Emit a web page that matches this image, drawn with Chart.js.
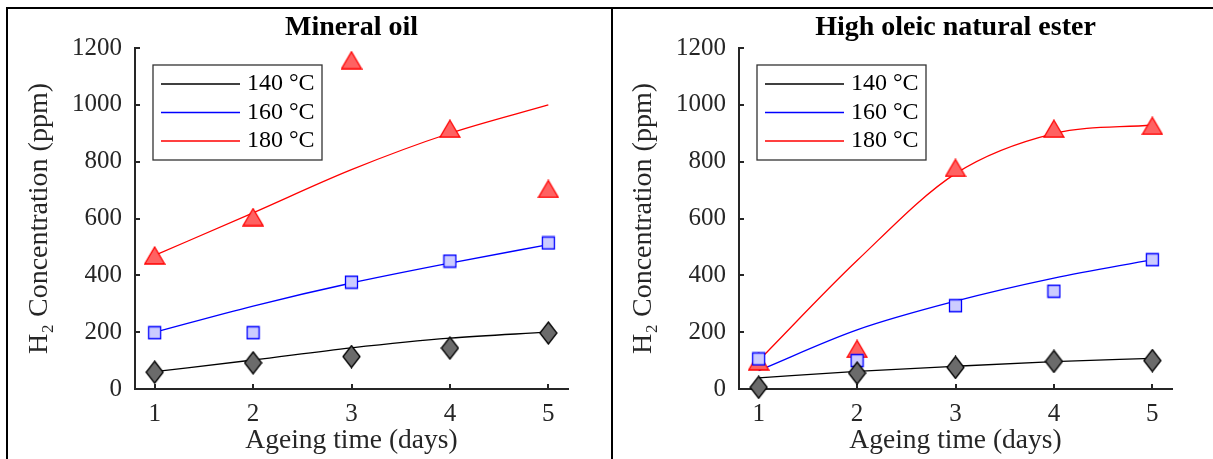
<!DOCTYPE html>
<html>
<head>
<meta charset="utf-8">
<script src="https://cdn.jsdelivr.net/npm/chart.js@4.4.0/dist/chart.umd.min.js"></script>
<style>
html, body { margin: 0; padding: 0; background: #fff; }
body { width: 1213px; height: 459px; position: relative; overflow: hidden; }
.frame { position: absolute; background: #000; }
canvas { position: absolute; top: 10px; }
#mineral { left: 10px; }
#ester { left: 614px; }
</style>
</head>
<body>
<div class="frame" style="left:6px;top:7px;width:1207px;height:2px"></div>
<div class="frame" style="left:6px;top:7px;width:2px;height:452px"></div>
<div class="frame" style="left:611px;top:7px;width:2px;height:452px"></div>
<canvas id="mineral" width="600" height="449"></canvas>
<canvas id="ester" width="599" height="449"></canvas>
<script>
const days = [1, 2, 3, 4, 5];
const xTicks = [1, 2, 3, 4, 5];
const yTicks = [0, 200, 400, 600, 800, 1000, 1200];
const temps = ['140 °C', '160 °C', '180 °C'];

// Mineral oil - measured
const mineral140 = [59, 92, 114, 144, 197];
const mineral160 = [198, 198, 376, 450, 514];
const mineral180 = [470, 605, 1157, 916, 704];
// Mineral oil - fitted curves
const mineralFit140 = [61, 102, 145, 179, 200];
const mineralFit160 = [200, 292, 373, 443, 508];
const mineralFit180 = [470, 620, 772, 900, 1000];

// High oleic natural ester - measured
const ester140 = [6, 56, 76, 97, 100];
const ester160 = [106, 100, 293, 344, 455];
const ester180 = [97, 141, 778, 916, 926];
// High oleic natural ester - fitted curves
const esterFit140 = [39, 62, 80, 96, 108];
const esterFit160 = [65, 208, 309, 390, 455];
const esterFit180 = [100, 452, 758, 899, 929];

const serif = "'Liberation Serif', 'Times New Roman', serif";
const axisColor = '#262626';
const lineColors = ['#000000', '#0000ff', '#ff0000'];

function makeMarker(shape, w, h, fill, stroke) {
    const c = document.createElement('canvas');
    c.width = w + 2;
    c.height = h + 2;
    const g = c.getContext('2d');
    g.beginPath();
    if (shape === 'triangle') {
        g.moveTo(1 + w / 2, 1);
        g.lineTo(1 + w, 1 + h);
        g.lineTo(1, 1 + h);
    } else if (shape === 'diamond') {
        g.moveTo(1 + w / 2, 1);
        g.lineTo(1 + w, 1 + h / 2);
        g.lineTo(1 + w / 2, 1 + h);
        g.lineTo(1, 1 + h / 2);
    } else {
        g.rect(1.5, 1.5, w - 1, h - 1);
    }
    g.closePath();
    g.fillStyle = fill;
    g.fill();
    g.lineWidth = 1.3;
    g.strokeStyle = stroke;
    g.stroke();
    return c;
}

const markers = [
    makeMarker('diamond', 17, 22, '#6b6b6b', '#000000'),
    makeMarker('square', 13, 13, '#ccccff', '#0000ff'),
    makeMarker('triangle', 20, 17, '#ff6262', '#ff0000')
];

function pts(ys) {
    return days.map((d, i) => ({ x: d, y: ys[i] }));
}

const innerTicks = {
    id: 'innerTicks',
    beforeDatasetsDraw(chart) {
        const ctx = chart.ctx;
        const ca = chart.chartArea;
        const xs = chart.scales.x;
        const ys = chart.scales.y;
        ctx.save();
        ctx.strokeStyle = axisColor;
        ctx.lineWidth = 2;
        ctx.beginPath();
        yTicks.forEach(v => {
            const p = Math.round(ys.getPixelForValue(v));
            ctx.moveTo(ca.left, p);
            ctx.lineTo(ca.left + 5, p);
        });
        xTicks.forEach(v => {
            const p = Math.round(xs.getPixelForValue(v));
            ctx.moveTo(p, ca.bottom);
            ctx.lineTo(p, ca.bottom - 5);
        });
        ctx.stroke();
        ctx.restore();
    }
};

const boxLegend = {
    id: 'boxLegend',
    afterDraw(chart) {
        const ctx = chart.ctx;
        const ca = chart.chartArea;
        const bx = ca.left + 18, by = ca.top + 17, bw = 169, bh = 95;
        ctx.save();
        ctx.fillStyle = '#fff';
        ctx.fillRect(bx, by, bw, bh);
        ctx.strokeStyle = '#333';
        ctx.lineWidth = 1.3;
        ctx.strokeRect(bx, by, bw, bh);
        ctx.font = '24px ' + serif;
        ctx.textBaseline = 'middle';
        ctx.textAlign = 'left';
        chart.data.datasets.filter(d => d.showLine).forEach((d, i) => {
            const ry = by + 19 + i * 28.5;
            ctx.strokeStyle = d.borderColor;
            ctx.lineWidth = 1.3;
            ctx.beginPath();
            ctx.moveTo(bx + 8, ry);
            ctx.lineTo(bx + 87, ry);
            ctx.stroke();
            ctx.fillStyle = '#000';
            ctx.fillText(d.label, bx + 94, ry);
        });
        ctx.restore();
    }
};

function makeChart(id, title, measured, fitted, rightPad) {
    const datasets = [];
    measured.forEach((ys, i) => {
        datasets.push({
            label: temps[i] + ' measured',
            data: pts(ys),
            showLine: false,
            pointStyle: markers[i],
            order: 0,
            clip: false
        });
    });
    fitted.forEach((ys, i) => {
        datasets.push({
            label: temps[i],
            data: pts(ys),
            showLine: true,
            borderColor: lineColors[i],
            borderWidth: 1.3,
            pointRadius: 0,
            cubicInterpolationMode: 'monotone',
            order: 1,
            clip: false
        });
    });

    return new Chart(document.getElementById(id), {
        type: 'scatter',
        data: { datasets: datasets },
        options: {
            responsive: false,
            animation: false,
            devicePixelRatio: 1,
            layout: { padding: { left: 0, right: rightPad, top: 0, bottom: 0 } },
            plugins: {
                legend: { display: false },
                tooltip: { enabled: false },
                title: {
                    display: true,
                    text: title,
                    fullSize: false,
                    color: '#000',
                    font: { family: serif, size: 28, weight: 'bold', lineHeight: 1 },
                    padding: { top: 4, bottom: 6 }
                }
            },
            scales: {
                x: {
                    type: 'linear',
                    min: 0.8,
                    max: 5.2,
                    afterBuildTicks: s => { s.ticks = xTicks.map(v => ({ value: v })); },
                    afterFit: s => { s.height = 70; },
                    grid: { drawOnChartArea: false, drawTicks: false },
                    border: { color: axisColor, width: 2 },
                    ticks: {
                        color: axisColor,
                        padding: 10,
                        font: { family: serif, size: 25 },
                        callback: v => String(v)
                    },
                    title: {
                        display: true,
                        text: 'Ageing time (days)',
                        color: axisColor,
                        font: { family: serif, size: 27.5, lineHeight: 1 },
                        padding: { top: 0, bottom: 4 }
                    }
                },
                y: {
                    min: 0,
                    max: 1200,
                    afterBuildTicks: s => { s.ticks = yTicks.map(v => ({ value: v })); },
                    afterFit: s => { s.width = 125; },
                    grid: { drawOnChartArea: false, drawTicks: false },
                    border: { color: axisColor, width: 2 },
                    ticks: {
                        color: axisColor,
                        padding: 13,
                        font: { family: serif, size: 25 },
                        callback: v => String(v)
                    },
                    title: {
                        display: true,
                        text: 'H₂ Concentration (ppm)',
                        color: axisColor,
                        font: { family: serif, size: 28, lineHeight: 1 },
                        padding: { top: 16, bottom: 0 }
                    }
                }
            }
        },
        plugins: [innerTicks, boxLegend]
    });
}

makeChart('mineral', 'Mineral oil',
    [mineral140, mineral160, mineral180],
    [mineralFit140, mineralFit160, mineralFit180], 42);
makeChart('ester', 'High oleic natural ester',
    [ester140, ester160, ester180],
    [esterFit140, esterFit160, esterFit180], 41);
</script>
</body>
</html>
